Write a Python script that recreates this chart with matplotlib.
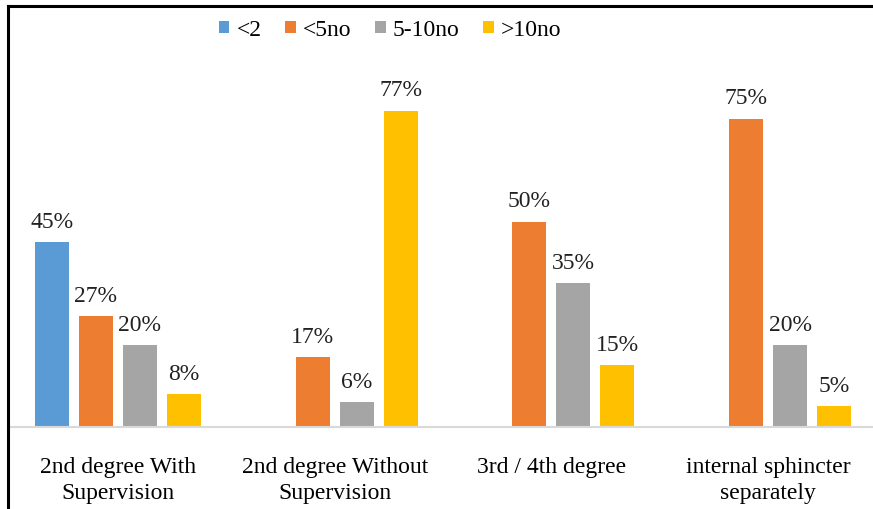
import matplotlib.pyplot as plt
import numpy as np
from matplotlib.lines import Line2D

# data
groups = ['2nd degree With\nSupervision', '2nd degree Without\nSupervision',
          '3rd / 4th degree', 'internal sphincter\nseparately']
series = ['<2', '<5no', '5-10no', '>10no']
lt2 = [45, None, None, None]
lt5 = [27, 17, 50, 75]
mid = [20, 6, 35, 20]
gt10 = [8, 77, 15, 5]
colors = ['#5B9BD5', '#ED7D31', '#A5A5A5', '#FFC000']

plt.rcParams['font.family'] = ['Liberation Serif', 'DejaVu Serif']

fig = plt.figure(figsize=(8.73, 5.10), dpi=100)
ax = fig.add_axes([8 / 873, 82 / 510, 865 / 873, 421 / 510])

x = np.arange(len(groups))
pitch = 44 / 216.8
width = 34 / 216.8

for i, (name, vals, c) in enumerate(zip(series, [lt2, lt5, mid, gt10], colors)):
    xs = [g + (i - 1.5) * pitch for g, v in zip(x, vals) if v is not None]
    vs = [v for v in vals if v is not None]
    bars = ax.bar(xs, vs, width, color=c, label=name, zorder=2)
    for b, v in zip(bars, vs):
        ax.annotate(f'{v}%', (b.get_x() + b.get_width() / 2, v),
                    xytext=(0, 11), textcoords='offset points',
                    ha='center', va='baseline', fontsize=17, color='#222222')

ax.set_xlim(-110 / 216.8, 3 + 105 / 216.8)
ax.set_ylim(0, 421 / 4.11)
ax.set_yticks([])
ax.set_xticks(x)
ax.set_xticklabels(groups, fontsize=17, linespacing=1.3)
ax.tick_params(axis='x', length=0, pad=21)
for s in ['top', 'right', 'left']:
    ax.spines[s].set_visible(False)
ax.spines['bottom'].set_color('#D9D9D9')
ax.spines['bottom'].set_linewidth(1.5)

fig.legend(loc='center', bbox_to_anchor=(390 / 873, 1 - 31 / 510), ncol=4,
           frameon=False, fontsize=17, handlelength=0.45, handleheight=0.45,
           handletextpad=0.3, columnspacing=1.0)

# black frame on top and left like the source screenshot
fig.add_artist(Line2D([8 / 873, 1], [1 - 7 / 510] * 2, color='black', lw=2.2,
                      transform=fig.transFigure))
fig.add_artist(Line2D([8 / 873] * 2, [0, 1 - 7 / 510], color='black', lw=2.2,
                      transform=fig.transFigure))

fig.savefig('out.png', dpi=100)
